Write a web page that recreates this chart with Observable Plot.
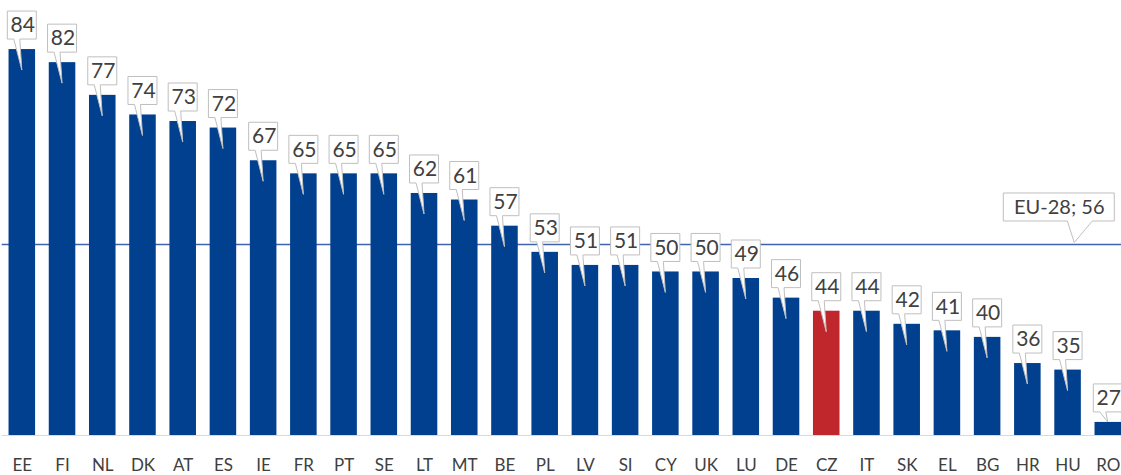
<!DOCTYPE html>
<html><head><meta charset="utf-8">
<script src="https://cdn.jsdelivr.net/npm/d3@7"></script>
<script src="https://cdn.jsdelivr.net/npm/@observablehq/plot@0.6"></script>
<style>body{margin:0;background:#fff;} #chart svg{display:block;}</style>
</head><body><div id="chart"></div>
<script>
const countries = ["EE","FI","NL","DK","AT","ES","IE","FR","PT","SE","LT","MT","BE","PL","LV","SI","CY","UK","LU","DE","CZ","IT","SK","EL","BG","HR","HU","RO"];
const values = [84,82,77,74,73,72,67,65,65,65,62,61,57,53,51,51,50,50,49,46,44,44,42,41,40,36,35,27];
const highlight = "CZ";
const euLabel = "EU-28; 56";
const euLine = 54.2;
const yDomain = [25, 91.5];

const data = countries.map((c, i) => ({country: c, value: values[i]}));
const blue = "#00408f", red = "#c0272d", boxStroke = "#bfbfbf", textColor = "#404040";

function callouts(index, scales, channels, dimensions) {
  const x = scales.x, y = scales.y;
  const bw = typeof x.bandwidth === "function" ? x.bandwidth() : x.bandwidth;
  const y0 = y(yDomain[0]);
  const g = d3.create("svg:g").attr("fill", "#fff").attr("stroke", boxStroke).attr("stroke-width", 1);
  data.forEach(d => {
    const cx = x(d.country) + bw / 2;
    const top = y(d.value);
    const tip = Math.min(21, Math.max(0, y0 - top - 13));
    const w = 29, bTop = top - 38, bBot = top - 10, l = cx - w / 2, r = cx + w / 2;
    g.append("path").attr("d",
      `M${l},${bTop}H${r}V${bBot}H${cx - 2}L${cx},${top + tip}L${cx - 8},${bBot}H${l}Z`);
  });
  // EU-28 callout
  const ex = x(countries[countries.length - 1]) + bw / 2 - 49;
  const ey = y(euLine);
  const ew = 111, el = ex - ew / 2, er = ex + ew / 2, et = ey - 51, eb = ey - 23;
  g.append("path").attr("d",
    `M${el},${et}H${er}V${eb}H${ex + 33.5}L${ex + 15.5},${ey - 1.5}L${ex + 8.5},${eb}H${el}Z`);
  return g.node();
}

const chart = Plot.plot({
  width: 1121,
  height: 475,
  marginTop: 0,
  marginBottom: 40,
  marginLeft: 1.7,
  marginRight: -6.9,
  style: {fontFamily: "Lato, 'Open Sans', sans-serif", fontSize: "17px", color: textColor, background: "#fff"},
  x: {domain: countries, round: false, paddingInner: 0.34, paddingOuter: 0.17, tickSize: 0, tickPadding: 23, label: null},
  y: {domain: yDomain, axis: null},
  marks: [
    Plot.ruleY([euLine], {stroke: "#3f64ad", strokeWidth: 1.3}),
    Plot.barY(data, {x: "country", y1: yDomain[0], y2: "value", fill: d => d.country === highlight ? red : blue}),
    Plot.ruleY([yDomain[0]], {stroke: "#d9d9d9", strokeWidth: 1}),
    callouts,
    Plot.text(data, {x: "country", y: "value", text: d => String(d.value), dy: -24, dx: 0.5, fontSize: 21, fill: textColor}),
    Plot.text([euLabel], {x: () => countries[countries.length - 1], y: () => euLine, text: d => d, dx: -49, dy: -37, fontSize: 20, fill: textColor})
  ]
});
document.getElementById("chart").append(chart);
</script>
</body></html>
